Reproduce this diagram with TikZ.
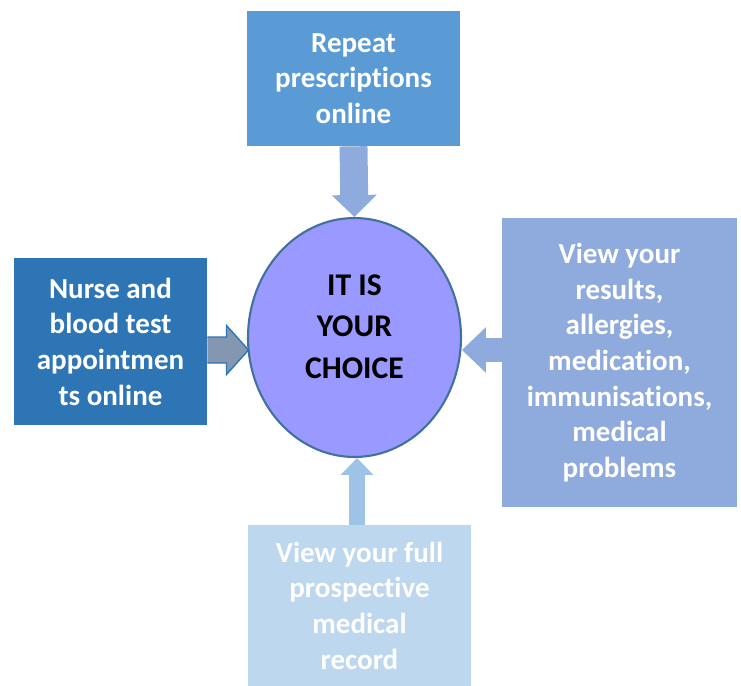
\documentclass[tikz,border=0pt]{standalone}
\usepackage{fontspec}
\setmainfont{Carlito}[Ligatures={NoCommon,NoContextual}]
\usepackage{xcolor}
\usepackage{tikz}
\usetikzlibrary{arrows.meta,calc,shapes.geometric}

\definecolor{topblue}{HTML}{5B9BD5}
\definecolor{nurseblue}{HTML}{2E75B6}
\definecolor{viewblue}{HTML}{8FAADC}
\definecolor{recordblue}{HTML}{BDD7EE}
\definecolor{uparrow}{HTML}{9DC3E6}
\definecolor{greyarrow}{HTML}{8497B0}
\definecolor{choicefill}{HTML}{9999FF}
\definecolor{choiceline}{HTML}{41719C}

\tikzset{
    infobox/.style={rectangle, text=white, align=center,
        font=\fontsize{16.5}{20.3}\selectfont\bfseries}
}

\begin{document}
\begin{tikzpicture}[x=0.02cm, y=-0.02cm]
        \useasboundingbox (0,0) rectangle (741,686);

        % Centre: the choice.
        \node[ellipse, draw=choiceline, line width=1.2pt, fill=choicefill,
        minimum width=4.26cm, minimum height=4.78cm, inner sep=0pt,
        align=center, text depth=12.5pt, font=\fontsize{18}{23.6}\selectfont\bfseries]
        (choice) at (354.5,337.5) {IT IS\\YOUR\\CHOICE};

        % Four boxes round it.
        \node[infobox, fill=topblue, minimum width=4.26cm, minimum height=2.7cm]
        (repeat) at (353.5,78.5) {Repeat\\prescriptions\\online};
        \node[infobox, fill=nurseblue, minimum width=3.86cm, minimum height=3.34cm]
        (nurse) at (110.5,341.5) {Nurse and\\blood test\\appointmen\\ts online};
        \node[infobox, fill=viewblue, minimum width=4.7cm, minimum height=5.78cm]
        (results) at (619.5,362.5) {View your\\results,\\allergies,\\medication,\\immunisations,\\medical\\problems};
        \node[infobox, fill=recordblue, minimum width=4.46cm, minimum height=3.22cm]
        (record) at (359.5,605.5) {View your full\\prospective\\medical\\record};

        % Arrows into the centre.
        \draw[viewblue, line width=15.9pt,
        -{Triangle[length=12.5pt, width=25.5pt, line width=0pt]}]
        (repeat.south) -- (choice.north);
        \draw[viewblue, line width=13.6pt,
        -{Triangle[length=13.6pt, width=26pt, line width=0pt]}]
        (results.west |- 0,350) -- (choice.east |- 0,350);
        \draw[uparrow, line width=9.1pt,
        -{Triangle[length=9.6pt, width=18.7pt, line width=0pt]}]
        (record.north -| 357,0) -- (choice.south -| 357,0);

        % Left arrow has an outline.
        \coordinate (ls) at (nurse.east |- 0,350);
        \coordinate (lt) at (248.5,350);
        \draw[nurseblue, fill=greyarrow, line width=0.8pt, line join=miter]
        ($(ls)+(0,-13)$) -- ($(lt)+(-22,-13)$) -- ($(lt)+(-22,-24.5)$) -- (lt)
        -- ($(lt)+(-22,24.5)$) -- ($(lt)+(-22,13)$) -- ($(ls)+(0,13)$);
    \end{tikzpicture}
\end{document}
